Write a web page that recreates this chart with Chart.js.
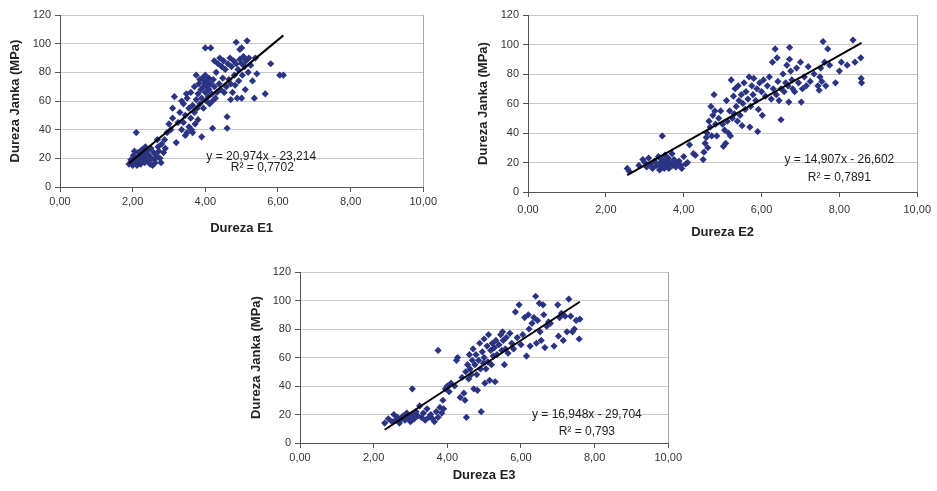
<!DOCTYPE html>
<html>
<head>
<meta charset="utf-8">
<script src="https://cdn.jsdelivr.net/npm/chart.js@4.4.1/dist/chart.umd.min.js"></script>
<style>
  html, body { margin: 0; padding: 0; background: #fff; }
  body { width: 937px; height: 491px; position: relative; overflow: hidden; }
  canvas { position: absolute; }
</style>
</head>
<body>
<canvas id="c1" width="440" height="242" style="left:0;top:0"></canvas>
<canvas id="c2" width="472" height="245" style="left:465px;top:0"></canvas>
<canvas id="c3" width="445" height="234" style="left:240px;top:257px"></canvas>
<script>
// --- Data ---
const yTitle = 'Dureza Janka (MPa)';
const xTitles = ['Dureza E1', 'Dureza E2', 'Dureza E3'];
const xTicks = [0, 2, 4, 6, 8, 10];
const yTicks = [0, 20, 40, 60, 80, 100, 120];

// [dureza E, dureza Janka]
const pointsE1 = [
  [1.90,16],[1.95,19],[2.00,15],[2.02,22],[2.05,17],[2.10,20],[2.12,15],[2.15,24],[2.18,18],[2.20,21],
  [2.22,16],[2.25,26],[2.28,19],[2.30,23],[2.33,17],[2.35,21],[2.40,25],[2.42,18],[2.45,22],[2.48,16],
  [2.50,27],[2.52,20],[2.55,15],[2.58,24],[2.60,19],[2.62,17],[2.65,22],[2.70,28],[2.72,25],[2.75,20],
  [2.78,17],[2.80,30],[2.85,24],[2.88,33],[2.90,27],[2.95,38],[2.10,38],[2.05,25],[2.35,28],[2.68,33],
  [3.00,44],[3.05,40],[3.10,55],[3.10,48],[3.15,63],[3.20,31],[3.25,45],[3.30,52],[3.35,40],[3.40,58],
  [3.40,45],[3.45,50],[3.50,62],[3.50,38],[3.55,55],[3.55,42],[3.60,66],[3.60,48],[3.65,57],[3.65,38],
  [3.70,70],[3.70,52],[3.72,44],[3.75,61],[3.75,78],[3.78,55],[3.80,65],[3.80,47],[3.82,72],[3.85,58],
  [3.85,75],[3.88,68],[3.90,35],[3.90,62],[3.92,76],[3.95,70],[3.95,55],[3.98,73],[4.00,97],[4.00,66],
  [4.00,78],[4.02,60],[4.05,74],[4.05,70],[4.08,63],[4.10,76],[4.10,68],[4.12,58],[4.15,97],[4.15,72],
  [4.18,65],[4.20,41],[4.20,60],[4.22,75],[4.25,88],[4.25,70],[4.28,62],[4.30,80],[4.32,66],[4.35,86],
  [4.38,72],[4.40,90],[4.42,68],[4.45,84],[4.48,76],[4.50,88],[4.52,66],[4.55,82],[4.58,70],[4.60,49],
  [4.60,41],[4.62,86],[4.65,75],[4.68,90],[4.70,61],[4.70,72],[4.72,84],[4.75,66],[4.78,88],[4.80,78],
  [4.82,71],[4.85,101],[4.85,86],[4.88,62],[4.90,82],[4.92,74],[4.95,96],[4.95,89],[5.00,97],[5.00,86],
  [5.00,62],[5.02,78],[5.05,91],[5.08,84],[5.10,68],[5.12,88],[5.15,102],[5.18,80],[5.20,90],[5.25,85],
  [5.30,74],[5.35,62],[5.38,90],[5.42,79],[5.65,65],[5.80,86],[6.05,78],[6.15,78],[3.35,60],[3.45,36],
  [3.62,40],[3.48,65]
];
const pointsE2 = [
  [2.55,16],[2.60,14],[2.85,18],[2.95,22],[3.00,20],[3.05,17],[3.10,23],[3.15,19],[3.20,16],[3.25,21],
  [3.30,18],[3.35,24],[3.38,15],[3.40,20],[3.42,17],[3.45,38],[3.45,22],[3.48,19],[3.50,16],[3.52,25],
  [3.55,21],[3.58,18],[3.60,23],[3.62,16],[3.65,20],[3.70,26],[3.72,18],[3.75,22],[3.80,17],[3.82,20],
  [3.88,21],[3.92,18],[3.95,16],[4.00,24],[4.05,19],[4.10,20],[4.15,32],[4.25,26],[4.30,25],[4.50,22],
  [4.52,27],[4.55,33],[4.58,37],[4.60,40],[4.62,30],[4.65,48],[4.68,44],[4.70,58],[4.72,38],[4.75,52],
  [4.78,66],[4.80,55],[4.82,46],[4.85,38],[4.90,50],[4.95,55],[5.00,46],[5.02,31],[5.05,42],[5.08,33],
  [5.10,62],[5.12,48],[5.15,40],[5.18,55],[5.20,38],[5.22,76],[5.25,50],[5.28,65],[5.30,53],[5.32,70],
  [5.35,58],[5.38,48],[5.40,72],[5.42,62],[5.45,52],[5.48,66],[5.50,45],[5.52,60],[5.55,74],[5.58,56],
  [5.60,68],[5.65,63],[5.68,78],[5.70,44],[5.72,58],[5.75,72],[5.78,66],[5.80,77],[5.85,62],[5.88,70],
  [5.90,41],[5.92,56],[5.95,74],[6.00,68],[6.02,52],[6.05,76],[6.10,65],[6.15,72],[6.20,78],[6.25,63],
  [6.28,88],[6.30,70],[6.35,97],[6.38,66],[6.40,91],[6.42,75],[6.45,62],[6.50,49],[6.50,70],[6.55,80],
  [6.58,68],[6.62,74],[6.65,86],[6.68,72],[6.70,61],[6.72,98],[6.72,90],[6.75,82],[6.78,76],[6.80,70],
  [6.85,68],[6.90,84],[6.95,74],[7.00,88],[7.02,61],[7.05,70],[7.10,78],[7.15,72],[7.20,85],[7.25,75],
  [7.35,80],[7.45,72],[7.48,69],[7.50,78],[7.52,84],[7.55,75],[7.58,102],[7.62,88],[7.65,72],[7.70,97],
  [7.75,86],[7.90,74],[8.00,82],[8.05,88],[8.20,86],[8.35,103],[8.40,88],[8.55,91],[8.56,77],[8.57,74]
];
const pointsE3 = [
  [2.30,14],[2.40,17],[2.50,15],[2.55,20],[2.60,16],[2.65,18],[2.70,14],[2.75,17],[2.80,19],[2.85,16],
  [2.90,21],[2.95,18],[3.00,15],[3.05,38],[3.05,20],[3.10,17],[3.15,22],[3.20,19],[3.25,26],[3.30,18],
  [3.35,21],[3.40,16],[3.45,24],[3.50,18],[3.55,20],[3.60,17],[3.65,15],[3.70,22],[3.75,65],[3.75,18],
  [3.80,25],[3.85,21],[3.88,30],[3.90,24],[3.95,38],[4.00,40],[4.05,36],[4.10,42],[4.20,40],[4.25,58],
  [4.28,60],[4.35,32],[4.40,46],[4.45,35],[4.48,30],[4.50,50],[4.52,18],[4.55,55],[4.58,45],[4.60,62],
  [4.62,52],[4.65,48],[4.68,58],[4.70,66],[4.72,38],[4.75,55],[4.78,62],[4.80,48],[4.82,37],[4.85,58],
  [4.88,70],[4.90,52],[4.92,22],[4.95,64],[4.98,56],[5.00,73],[5.00,60],[5.02,42],[5.05,52],[5.08,68],
  [5.10,57],[5.12,76],[5.15,44],[5.18,65],[5.20,55],[5.22,70],[5.25,61],[5.28,67],[5.30,43],[5.32,72],
  [5.35,62],[5.40,69],[5.45,76],[5.48,65],[5.50,78],[5.52,72],[5.55,55],[5.58,66],[5.60,74],[5.65,63],
  [5.70,77],[5.75,70],[5.80,66],[5.85,92],[5.90,74],[5.95,97],[6.00,69],[6.05,76],[6.10,88],[6.15,61],
  [6.20,90],[6.22,80],[6.25,68],[6.30,84],[6.35,88],[6.40,103],[6.42,70],[6.45,86],[6.50,98],[6.52,78],
  [6.55,72],[6.60,97],[6.62,90],[6.65,67],[6.70,82],[6.75,85],[6.80,84],[6.90,68],[7.00,97],[7.02,75],
  [7.05,88],[7.10,91],[7.15,72],[7.20,89],[7.25,78],[7.30,101],[7.35,89],[7.40,78],[7.45,80],[7.50,86],
  [7.58,73],[7.60,87]
];

// trend line: [slope, intercept] and R²
const trendE1 = [20.974, -23.214];
const trendE2 = [14.907, -26.602];
const trendE3 = [16.948, -29.704];
const r2Values = ['0,7702', '0,7891', '0,793'];

// --- Helpers ---
const comma = (v, d) => v.toFixed(d).replace('.', ',');

Chart.defaults.font.family = "'Liberation Sans', Arial, sans-serif";
Chart.defaults.color = '#333';

const framePlugin = {
  id: 'frame',
  afterDraw(chart, args, opts) {
    const { ctx, chartArea: a, scales: { x, y } } = chart;
    ctx.save();
    // right-hand border of the plot area
    ctx.strokeStyle = '#a8a8a8';
    ctx.lineWidth = 1;
    ctx.beginPath();
    ctx.moveTo(Math.round(a.right) + 0.5, a.top);
    ctx.lineTo(Math.round(a.right) + 0.5, a.bottom);
    ctx.stroke();

    // regression equation
    ctx.fillStyle = '#222';
    ctx.font = "12px 'Liberation Sans', Arial, sans-serif";
    ctx.textAlign = 'center';
    ctx.textBaseline = 'middle';
    ctx.fillText(opts.eq, x.getPixelForValue(opts.eqAt[0]), y.getPixelForValue(opts.eqAt[1]));
    ctx.fillText(opts.r2, x.getPixelForValue(opts.r2At[0]), y.getPixelForValue(opts.r2At[1]));
    ctx.restore();
  }
};

function buildChart(id, points, trend, r2, xLabel, box, eqAt, r2At) {
  const xs = points.map(p => p[0]);
  const xMin = Math.min(...xs);
  const xMax = Math.max(...xs);
  const [m, b] = trend;
  const eq = `y = ${comma(m, 3)}x - ${comma(Math.abs(b), 3)}`;

  return new Chart(document.getElementById(id), {
    type: 'scatter',
    data: {
      datasets: [
        {
          type: 'line',
          data: [{ x: xMin, y: m * xMin + b }, { x: xMax, y: m * xMax + b }],
          borderColor: '#000',
          borderWidth: 2,
          pointRadius: 0,
          fill: false,
          order: 0
        },
        {
          data: points.map(p => ({ x: p[0], y: p[1] })),
          backgroundColor: '#2b3383',
          borderColor: '#2b3383',
          borderWidth: 0,
          pointStyle: 'rectRot',
          pointRadius: 3.6,
          order: 1
        }
      ]
    },
    options: {
      responsive: false,
      animation: false,
      events: [],
      layout: { padding: { top: box.padTop, right: box.padRight, left: 0, bottom: 0 } },
      plugins: {
        legend: { display: false },
        tooltip: { enabled: false },
        frame: { eq, r2: `R² = ${r2}`, eqAt, r2At }
      },
      scales: {
        x: {
          type: 'linear',
          min: xTicks[0],
          max: xTicks[xTicks.length - 1],
          afterBuildTicks: s => { s.ticks = xTicks.map(v => ({ value: v })); },
          afterFit: s => { s.height = box.xHeight; },
          grid: { drawOnChartArea: false, drawTicks: true, tickLength: 5, tickColor: '#555' },
          border: { color: '#555', width: 1 },
          ticks: {
            callback: v => comma(v, 2),
            maxRotation: 0,
            autoSkip: false,
            padding: box.xTickPad,
            color: '#333',
            font: { size: 11 }
          },
          title: {
            display: true,
            text: xLabel,
            color: '#222',
            font: { size: 13, weight: 'bold' },
            padding: { top: 0, bottom: box.xTitlePad }
          }
        },
        y: {
          type: 'linear',
          min: yTicks[0],
          max: yTicks[yTicks.length - 1],
          afterBuildTicks: s => { s.ticks = yTicks.map(v => ({ value: v })); },
          afterFit: s => { s.width = box.yWidth; },
          grid: { color: '#cdc6c6', tickColor: '#555', tickLength: 5 },
          border: { color: '#555', width: 1 },
          ticks: { padding: 4, color: '#333', font: { size: 11 } },
          title: {
            display: true,
            text: yTitle,
            color: '#222',
            font: { size: 13, weight: 'bold' },
            padding: { top: box.yTitlePad, bottom: 0 }
          }
        }
      }
    },
    plugins: [framePlugin]
  });
}

document.addEventListener('DOMContentLoaded', () => {
  buildChart('c1', pointsE1, trendE1, r2Values[0], xTitles[0],
    { yWidth: 60, xHeight: 55, padTop: 15, padRight: 12, yTitlePad: 8, xTitlePad: 6, xTickPad: 3 },
    [5.54, 20.9], [5.57, 13.3]);
  buildChart('c2', pointsE2, trendE2, r2Values[1], xTitles[1],
    { yWidth: 63, xHeight: 53, padTop: 15, padRight: 19, yTitlePad: 11, xTitlePad: 5, xTickPad: 6 },
    [8.0, 21.7], [8.0, 9.5]);
  buildChart('c3', pointsE3, trendE3, r2Values[2], xTitles[2],
    { yWidth: 60, xHeight: 48, padTop: 15, padRight: 13, yTitlePad: 9, xTitlePad: 8, xTickPad: 3 },
    [7.79, 19.6], [7.79, 7.7]);
});
</script>
</body>
</html>
